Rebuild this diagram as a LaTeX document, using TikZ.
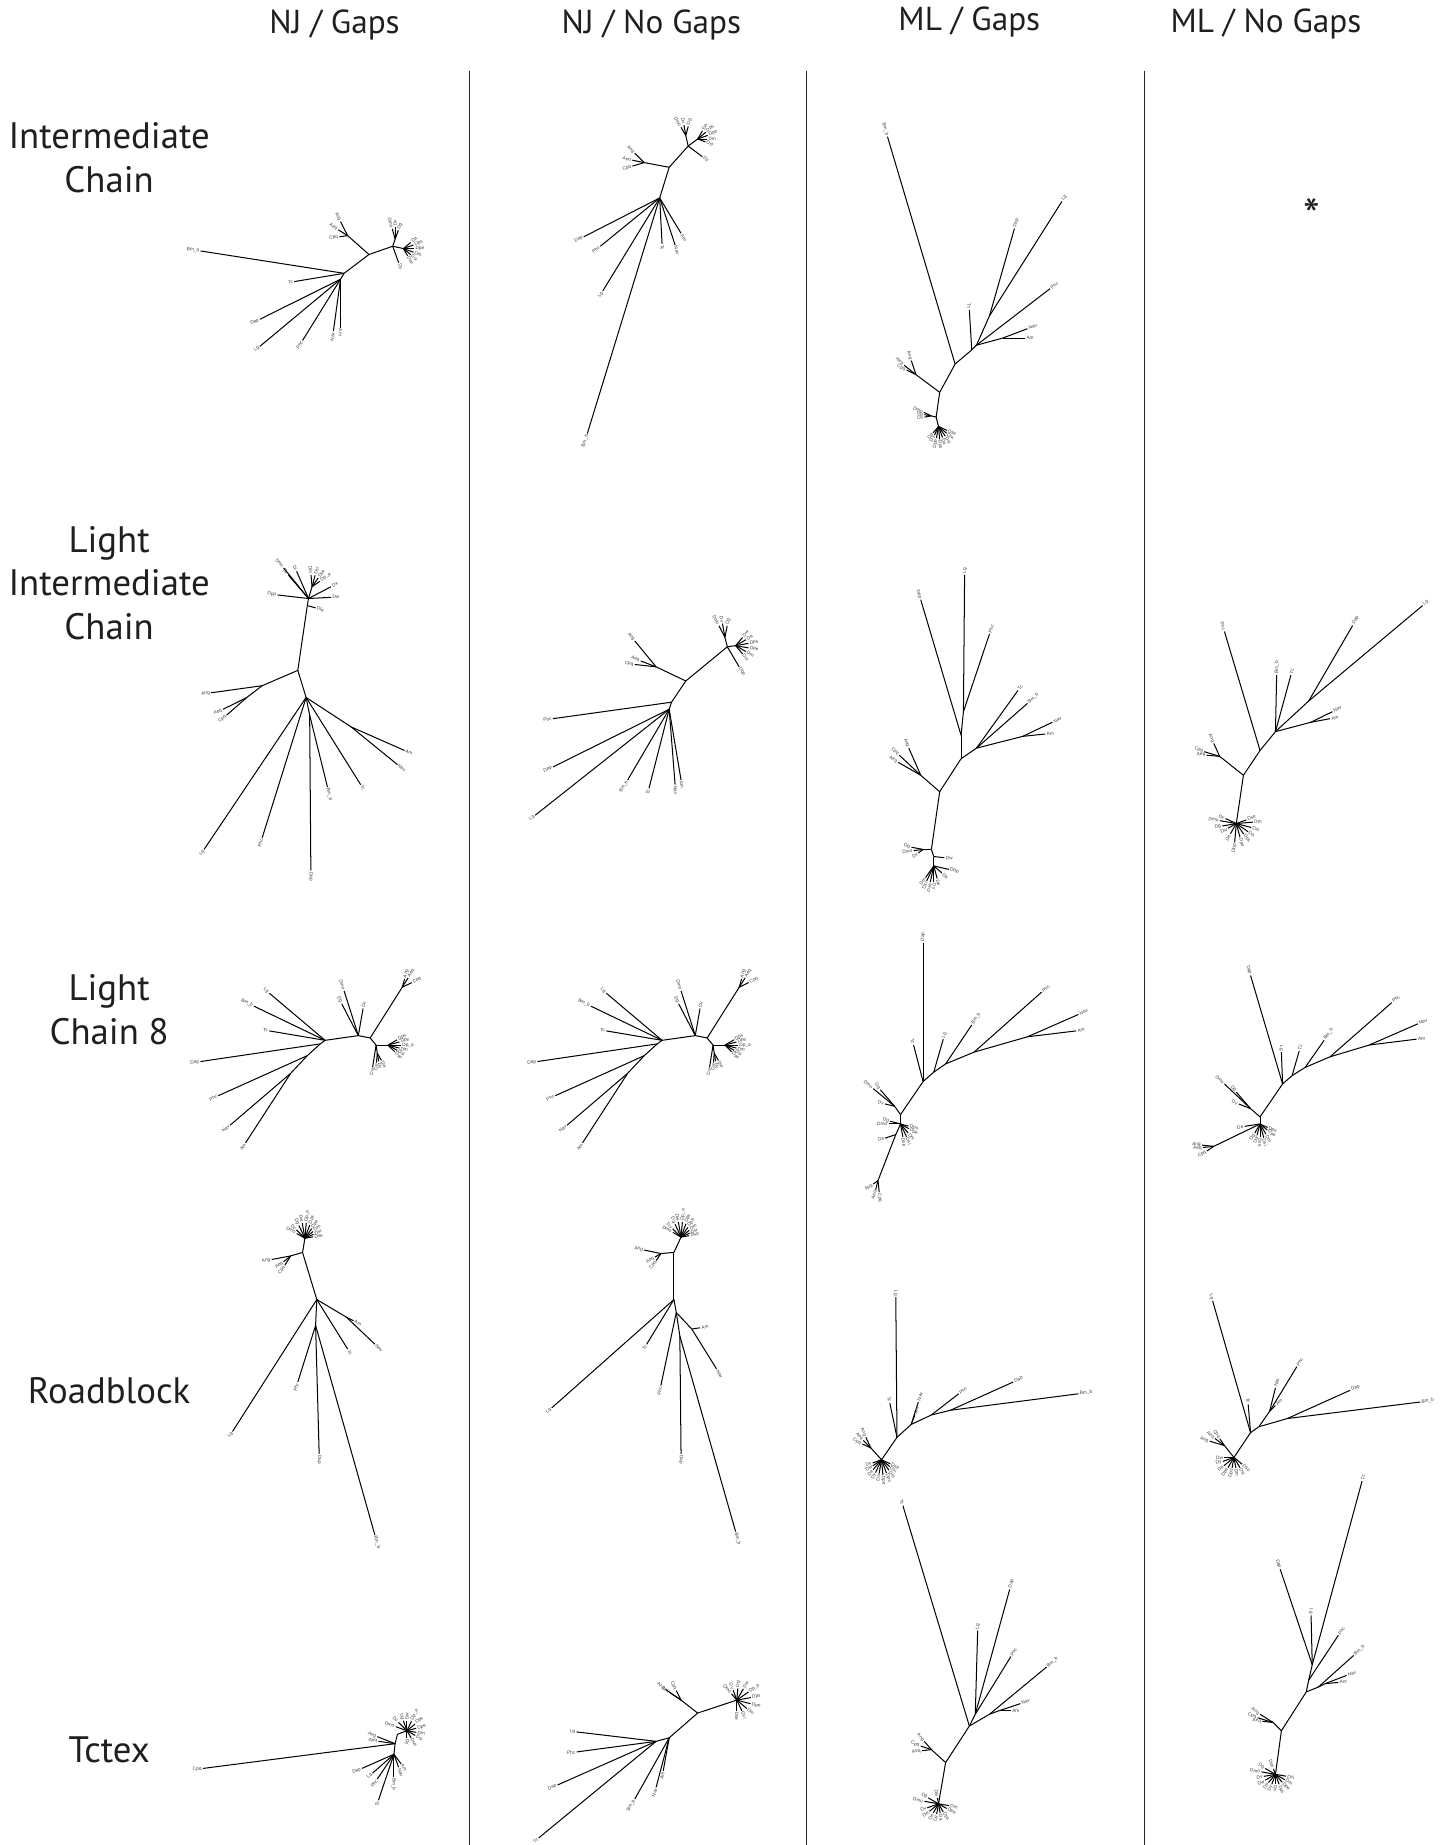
\documentclass[tikz,border=0pt]{standalone}
\usepackage{fontspec}
\setmainfont{PT Sans}
\newfontfamily\lblfont{Liberation Sans}
\usetikzlibrary{calc}
\tikzset{
  br/.style={line width=0.85pt,black},
  lbl/.style={font=\lblfont\fontsize{4}{4}\selectfont,text=black!75,inner sep=1pt},
  hdr/.style={font=\fontsize{28}{34}\selectfont,text=black!88},
  rowlbl/.style={font=\fontsize{31}{37}\selectfont,align=center,text=black!88},
  starlbl/.style={font=\fontsize{40}{40}\selectfont,text=black!88,inner sep=0pt,anchor=north},
  divider/.style={line width=0.9pt,black!85}
}
\newcommand\tnode[3]{\coordinate (#2) at #3; \draw[br] (#1) -- (#2);}
\newcommand\tleaf[4]{%
  \coordinate (#2) at #3;
  \draw[br] (#1) -- (#2);
  \pgfmathanglebetweenpoints{\pgfpointanchor{#1}{center}}{\pgfpointanchor{#2}{center}}%
  \let\myang\pgfmathresult
  \let\myrot\myang\def\myanc{west}%
  \ifdim\myang pt>90pt\relax\ifdim\myang pt<270pt\relax
     \pgfmathsetmacro\myrot{\myang-180}\def\myanc{east}\fi\fi
  \node[lbl,rotate=\myrot,anchor=\myanc] at (#2) {#4};}
\newcommand\fan[3]{\foreach \fanA/\fanL/\fanT [count=\fanK] in {#3}{\tleaf{#1}{#2\fanK}{($(#1)+(\fanA:\fanL)$)}{\fanT}}}
\newcommand\lcnj[1]{%
\coordinate (#1i0) at (274,883);
\tleaf{#1i0}{#1Lg}{(227,843)}{Lg}
\tleaf{#1i0}{#1Bm}{(214,854)}{Bm\_b}
\tleaf{#1i0}{#1Tc}{(227,875)}{Tc}
\tnode{#1i0}{#1i1}{(302,879)}
\tleaf{#1i1}{#1Dmo}{(290,841)}{Dmo}
\tleaf{#1i1}{#1Dg}{(288,852)}{Dg}
\tleaf{#1i1}{#1Dv}{(306,856)}{Dv}
\tnode{#1i1}{#1i2}{(312,881)}
\tnode{#1i2}{#1i3}{(339,838)}
\tleaf{#1i3}{#1Ang}{(341,831)}{Ang}
\tleaf{#1i3}{#1Aeq}{(344,830)}{Aeq}
\tleaf{#1i3}{#1Cpq}{(347,834)}{Cpq}
\tnode{#1i2}{#1i4}{(317,887)}
\tnode{#1i4}{#1i9}{(327,887)}
\fan{#1i9}{#1R}{330/9/Dps,345/10/Dpe,0/11/Dp\_a,15/10/Dm,30/9/Dsi,45/8/Dse}
\tleaf{#1i4}{#1Da}{(314,906)}{Da}
\tnode{#1i4}{#1i10}{(318,894)}
\fan{#1i10}{#1D}{80/7/Dy,95/8/De,60/7/Dw}
\tnode{#1i0}{#1i5}{(270,886)}
\tleaf{#1i5}{#1Dap}{(169,901)}{Dap}
\tnode{#1i5}{#1i6}{(259,896)}
\tleaf{#1i6}{#1Phc}{(184,930)}{Phc}
\tnode{#1i6}{#1i7}{(245,911)}
\tleaf{#1i7}{#1Nav}{(194,955)}{Nav}
\tleaf{#1i7}{#1Am}{(207,970)}{Am}
}
\begin{document}
\begin{tikzpicture}[x=1pt,y=-0.993pt]
\useasboundingbox (0,0) rectangle (1213,1566);
% headers
\node[hdr] (hdrA) at (282,21) {NJ / Gaps};
\node[hdr] (hdrB) at (549,21) {NJ / No Gaps};
\node[hdr] (hdrC) at (817,19) {ML / Gaps};
\node[hdr] (hdrD) at (1067,20) {ML / No Gaps};
% row labels
\node[rowlbl] (rowA) at (92,134) {Intermediate\\Chain};
\node[rowlbl] (rowB) at (92,495) {Light\\Intermediate\\Chain};
\node[rowlbl] (rowC) at (92,857) {Light\\Chain 8};
\node[rowlbl] (rowD) at (92,1180) {Roadblock};
\node[rowlbl] (rowE) at (92,1485) {Tctex};
% dividers
\coordinate (dA1) at (396,60); \coordinate (dA2) at (396,1566);
\coordinate (dB1) at (680,60); \coordinate (dB2) at (680,1566);
\coordinate (dC1) at (965,60); \coordinate (dC2) at (965,1566);
\draw[divider] (dA1) -- (dA2);
\draw[divider] (dB1) -- (dB2);
\draw[divider] (dC1) -- (dC2);
% ---------- Row 1 ----------
% T1 NJ/Gaps
\coordinate (a0) at (290,232);
\tleaf{a0}{aBm}{(169,213)}{Bm\_b}
\tleaf{a0}{aTc}{(248,239)}{Tc}
\tnode{a0}{a1}{(287,237)}
\tleaf{a1}{aDap}{(219,271)}{Dap}
\tleaf{a1}{aLg}{(219,294)}{Lg}
\tleaf{a1}{aPhc}{(255,289)}{Phc}
\tleaf{a1}{aNav}{(281,281)}{Nav}
\tleaf{a1}{aAm}{(287,278)}{Am}
\tnode{a0}{a2}{(311,216)}
\tnode{a2}{a3}{(293,200)}
\tleaf{a3}{aAng}{(287,188)}{Ang}
\tleaf{a3}{aAeq}{(285,195)}{Aeq}
\tleaf{a3}{aCpq}{(286,201)}{Cpq}
\tnode{a2}{a4}{(331,209)}
\tnode{a4}{a5}{(333,203)}
\fan{a5}{aU}{255/9/Dmo,270/10/Dv,290/8/Dg}
\tnode{a4}{a6}{(340,211)}
\fan{a6}{aR}{320/8/Da,340/9/Dps,0/9/Dpe,20/9/Dm,40/8/Dsi,60/7/Dse}
\tleaf{a4}{aDme}{(336,223)}{Dy}
% T2 NJ/No Gaps
\coordinate (b0) at (556,168);
\tleaf{b0}{bBm}{(495,368)}{Bm\_b}
\tleaf{b0}{bDap}{(492,201)}{Dap}
\tleaf{b0}{bPhc}{(506,209)}{Phc}
\tleaf{b0}{bLg}{(508,247)}{Lg}
\tleaf{b0}{bTc}{(558,207)}{Tc}
\tleaf{b0}{bNav}{(569,208)}{Nav}
\tleaf{b0}{bAm}{(574,198)}{Am}
\tnode{b0}{b1}{(564,142)}
\tnode{b1}{b2}{(543,138)}
\tleaf{b2}{bAng}{(535,130)}{Ang}
\tleaf{b2}{bAeq}{(533,136)}{Aeq}
\tleaf{b2}{bCpq}{(533,141)}{Cpq}
\tnode{b1}{b3}{(580,124)}
\tnode{b3}{b4}{(578,115)}
\fan{b4}{bU}{240/8/Dmo,260/9/Dv,285/8/Dg}
\tnode{b3}{b5}{(588,118)}
\fan{b5}{bR}{300/8/Da,320/9/Dps,340/9/Dpe,0/8/Dm,20/7/Dsi}
\tleaf{b3}{bDme}{(592,133)}{Dy}
% T3 ML/Gaps
\coordinate (c0) at (805,309);
\tleaf{c0}{cBm}{(748,116)}{Bm\_b}
\tnode{c0}{c2}{(819,297)}
\tleaf{c2}{cTc}{(817,263)}{Tc}
\tnode{c2}{c3}{(823,293)}
\tnode{c3}{c4}{(834,268)}
\tleaf{c4}{cDap}{(855,194)}{Dap}
\tleaf{c4}{cLg}{(895,171)}{Lg}
\tleaf{c3}{cPhc}{(885,245)}{Phc}
\tnode{c3}{c6}{(845,287)}
\tleaf{c6}{cNav}{(866,279)}{Nav}
\tleaf{c6}{cAm}{(864,287)}{Am}
\tnode{c0}{c1}{(792,333)}
\tnode{c1}{c8}{(772,318)}
\tleaf{c8}{cAng}{(768,306)}{Ang}
\tleaf{c8}{cAeq}{(762,310)}{Aeq}
\tleaf{c8}{cCpq}{(764,314)}{Cpq}
\tnode{c1}{c7}{(789,354)}
\tnode{c7}{c9}{(785,353)}
\fan{c9}{cL}{190/6/Dg,205/7/Dmo,170/6/Dv}
\tnode{c7}{c10}{(791,362)}
\fan{c10}{cD}{100/10/Dpe,85/11/Dps,70/10/Da,55/10/Dsi,40/9/Dm,25/8/Dse,115/8/Dy,130/7/De}
% T4 ML/No Gaps
\node[starlbl] (star) at (1106,168) {*};
% ---------- Row 2 ----------
% T5
\coordinate (e0) at (251,569);
\tnode{e0}{e2}{(259,514)}
\tleaf{e2}{eDle}{(266,516)}{Dle}
\tnode{e2}{e3}{(260,508)}
\tleaf{e3}{eDgg}{(234,505)}{Dpp}
\tleaf{e3}{eDmo}{(239,482)}{Dmo}
\tleaf{e3}{eDy}{(243,488)}{Dy}
\tleaf{e3}{eDr}{(250,485)}{Dr}
\tnode{e3}{e8}{(263,498)}
\fan{e8}{eC}{265/10/Dm,285/10/Dsi,305/9/Dse,325/8/Dp\_a}
\tleaf{e3}{eDx}{(279,498)}{Dx}
\tleaf{e3}{eDw}{(279,507)}{Dw}
\tnode{e0}{e4}{(221,582)}
\tleaf{e4}{eAng}{(178,588)}{Ang}
\tnode{e4}{e5}{(208,592)}
\tleaf{e5}{eAeq}{(188,602)}{Aeq}
\tleaf{e5}{eCpq}{(191,607)}{Cpq}
\tnode{e0}{e1}{(258,592)}
\tleaf{e1}{eLg}{(172,721)}{Lg}
\tleaf{e1}{ePhc}{(221,711)}{Phc}
\tnode{e1}{e6}{(261,607)}
\tleaf{e6}{eDap}{(262,739)}{Dap}
\tleaf{e6}{eBm}{(276,668)}{Bm\_b}
\tleaf{e1}{eTc}{(304,666)}{Tc}
\tnode{e1}{e7}{(296,617)}
\tleaf{e7}{eAm}{(341,637)}{Am}
\tleaf{e7}{eNav}{(335,649)}{Nav}
% T6
\coordinate (f0) at (578,578);
\tnode{f0}{f1}{(613,549)}
\tnode{f1}{f2}{(611,541)}
\fan{f2}{fU}{243/11/Dmo,260/12/Dv,281/10/Dg}
\tnode{f1}{f3}{(620,548)}
\fan{f3}{fR}{310/9/Dw,330/10/Da,350/11/Dps,10/11/Dpe,30/10/Dm,50/9/Dsi}
\tleaf{f1}{fDbp}{(623,566)}{Dbp}
\tnode{f0}{f4}{(553,566)}
\tleaf{f4}{fAng}{(535,544)}{Ang}
\tleaf{f4}{fAeq}{(540,561)}{Aeq}
\tleaf{f4}{fCpq}{(535,564)}{Cpq}
\tnode{f0}{f5}{(566,596)}
\tleaf{f5}{fPhc}{(466,610)}{Phc}
\tnode{f5}{f6}{(564,602)}
\tleaf{f6}{fDap}{(466,651)}{Dap}
\tleaf{f6}{fLg}{(451,692)}{Lg}
\tleaf{f6}{fBm}{(529,662)}{Bm\_b}
\tleaf{f6}{fTc}{(547,669)}{Tc}
\tleaf{f6}{fNav}{(569,666)}{Nav}
\tleaf{f6}{fAm}{(574,662)}{Am}
% T7
\coordinate (g0) at (792,672);
\tnode{g0}{g1}{(810,644)}
\tnode{g1}{g2}{(810,624)}
\tleaf{g2}{gDap}{(776,509)}{Dap}
\tnode{g2}{g3}{(812,604)}
\tleaf{g3}{gLg}{(813,488)}{Lg}
\tleaf{g3}{gPhc}{(834,538)}{Phc}
\tnode{g1}{g4}{(823,635)}
\tleaf{g4}{gTc}{(858,586)}{Tc}
\tleaf{g4}{gBm}{(866,597)}{Bm\_b}
\tnode{g4}{g5}{(862,625)}
\tleaf{g5}{gNav}{(887,613)}{Nav}
\tleaf{g5}{gAm}{(881,623)}{Am}
\tnode{g0}{g6}{(776,658)}
\tleaf{g6}{gAng}{(766,635)}{Ang}
\tleaf{g6}{gCpq}{(758,641)}{Cpq}
\tleaf{g6}{gAeq}{(757,647)}{Aeq}
\tnode{g0}{g7}{(785,721)}
\tnode{g7}{g10}{(778,721)}
\fan{g10}{gL}{191/10/Dg,173/8/Dmo,143/5/Dv}
\tnode{g7}{g8}{(787,727)}
\tleaf{g8}{gDw}{(796,728)}{Dw}
\tnode{g8}{g9}{(787,735)}
\fan{g9}{gD}{125/12/Dm,115/14/Dsi,102/14/Dse,90/14/Dy,75/11/De,41/9/Da,13/13/Dbp}
% T8
\coordinate (h0) at (1048,658);
\tnode{h0}{h1}{(1062,637)}
\tleaf{h1}{hPhc}{(1032,536)}{Phc}
\tnode{h1}{h2}{(1075,621)}
\tleaf{h2}{hBm}{(1076,573)}{Bm\_b}
\tleaf{h2}{hTc}{(1088,573)}{Tc}
\tnode{h2}{h3}{(1103,595)}
\tleaf{h3}{hLg}{(1199,514)}{Lg}
\tleaf{h3}{hDap}{(1140,531)}{Dap}
\tnode{h2}{h5}{(1105,613)}
\tleaf{h5}{hNav}{(1123,604)}{Nav}
\tleaf{h5}{hAm}{(1121,610)}{Am}
\tnode{h0}{h6}{(1028,642)}
\tleaf{h6}{hAng}{(1023,631)}{Ang}
\tleaf{h6}{hCpq}{(1015,638)}{Cpq}
\tleaf{h6}{hAeq}{(1017,641)}{Aeq}
\tnode{h0}{h4}{(1042,699)}
\fan{h4}{hD}{190/14/Dmo,170/12/Dg,205/10/Dv,150/8/Dw,120/10/De,95/16/Dbp,75/12/Dpe,55/11/Dps,35/12/Da,15/13/Dsi,355/14/Dm,340/9/Dse}
% ---------- Row 3 ----------
\begin{scope}\lcnj{i}\end{scope}
\begin{scope}[shift={(284,0)}]\lcnj{u}\end{scope}
% T11
\coordinate (j0) at (759,946);
\tnode{j0}{j1}{(778,918)}
\tleaf{j1}{jDap}{(778,800)}{Dap}
\tleaf{j1}{jTc}{(770,887)}{Tc}
\tnode{j1}{j2}{(787,910)}
\tleaf{j2}{jLg}{(795,882)}{Lg}
\tnode{j2}{j3}{(797,903)}
\tleaf{j3}{jBm}{(819,870)}{Bm\_b}
\tnode{j3}{j4}{(821,893)}
\tleaf{j4}{jPhc}{(878,842)}{Phc}
\tnode{j4}{j5}{(866,880)}
\tleaf{j5}{jNav}{(909,861)}{Nav}
\tleaf{j5}{jAm}{(907,875)}{Am}
\tnode{j0}{j8}{(754,939)}
\tleaf{j8}{jDmo}{(736,924)}{Dmo}
\tleaf{j8}{jDg}{(742,925)}{Dg}
\tleaf{j8}{jDv}{(746,937)}{Dv}
\tnode{j0}{j6}{(759,954)}
\fan{j6}{jL}{195/9/Dg,180/10/Dmo}
\fan{j6}{jR}{15/7/Dps,30/8/Dpe,50/10/Dm,65/12/Dsi,80/11/Dse}
\tnode{j6}{j7}{(755,963)}
\tleaf{j7}{jDa}{(746,966)}{Da}
\tnode{j7}{j11}{(740,1002)}
\fan{j11}{jA}{143/5/Ang,104/8/Aeq,84/10/Cpq}
% T12
\coordinate (k0) at (1062,948);
\tnode{k0}{k1}{(1081,920)}
\tleaf{k1}{kDap}{(1054,828)}{Dap}
\tleaf{k1}{kLg}{(1080,893)}{Lg}
\tnode{k1}{k2}{(1089,913)}
\tleaf{k2}{kTc}{(1095,892)}{Tc}
\tnode{k2}{k3}{(1100,906)}
\tleaf{k3}{kBm}{(1116,883)}{Bm\_b}
\tnode{k3}{k4}{(1121,897)}
\tleaf{k4}{kPhc}{(1173,851)}{Phc}
\tnode{k4}{k5}{(1154,887)}
\tleaf{k5}{kNav}{(1195,869)}{Nav}
\tleaf{k5}{kAm}{(1194,882)}{Am}
\tnode{k0}{k8}{(1054,941)}
\tleaf{k8}{kDmo}{(1032,920)}{Dmo}
\tleaf{k8}{kDg}{(1042,927)}{Dg}
\tleaf{k8}{kDv}{(1044,937)}{Dv}
\tnode{k0}{k6}{(1062,954)}
\tleaf{k6}{kDa}{(1049,956)}{Da}
\fan{k6}{kR}{25/7/Dps,40/8/Dpe,60/10/Dm,75/12/Dsi,90/11/Dse}
\fan{k6}{kL}{120/9/Dg,105/10/Dw}
\tnode{k6}{k7}{(1023,973)}
\fan{k7}{kA}{186/10/Ang,174/9/Aeq,146/7/Cpq}
% ---------- Row 4 ----------
% T13
\coordinate (l0) at (267,1103);
\tnode{l0}{l1}{(255,1063)}
\tnode{l1}{l4}{(245,1066)}
\tleaf{l4}{lAng}{(229,1069)}{Ang}
\tleaf{l4}{lAeq}{(239,1071)}{Aeq}
\tleaf{l4}{lCpq}{(240,1074)}{Cpq}
\tnode{l1}{l2}{(257,1051)}
\fan{l2}{lU}{210/8/Dmo,225/10/Dv,245/12/Dg,260/13/Dw,275/13/Dp\_a,290/12/Dps,305/10/Dpe,320/9/Dm,335/8/Dsi,350/7/Dse}
\tnode{l0}{l5}{(292,1118)}
\tleaf{l5}{lAm}{(298,1121)}{Am}
\tleaf{l5}{lNav}{(316,1141)}{Nav}
\tleaf{l0}{lTc}{(293,1145)}{Tc}
\tleaf{l0}{lLg}{(196,1215)}{Lg}
\tnode{l0}{l3}{(266,1125)}
\tleaf{l3}{lPhc}{(251,1173)}{Phc}
\tleaf{l3}{lDap}{(269,1234)}{Dap}
\tleaf{l3}{lBm}{(316,1303)}{Bm\_b}
% T14
\coordinate (m0) at (568,1103);
\tnode{m0}{m1}{(568,1063)}
\tnode{m1}{m4}{(557,1064)}
\tleaf{m4}{mAng}{(543,1061)}{Ang}
\tleaf{m4}{mAeq}{(552,1067)}{Aeq}
\tleaf{m4}{mCpq}{(553,1070)}{Cpq}
\tnode{m1}{m2}{(574,1050)}
\fan{m2}{mU}{210/8/Dmo,225/10/Dv,245/12/Dg,260/13/Dw,275/13/Dp\_a,290/12/Dps,305/10/Dpe,320/9/Dm,335/8/Dsi,350/7/Dse}
\tleaf{m0}{mLg}{(465,1195)}{Lg}
\tleaf{m0}{mTc}{(545,1141)}{Tc}
\tnode{m0}{m3}{(570,1114)}
\tleaf{m3}{mPhc}{(557,1176)}{Phc}
\tnode{m3}{m5}{(573,1134)}
\tleaf{m5}{mDap}{(574,1234)}{Dap}
\tleaf{m5}{mBm}{(620,1300)}{Bm\_b}
\tnode{m3}{m7}{(583,1128)}
\tleaf{m7}{mAm}{(590,1127)}{Am}
\tleaf{m7}{mNav}{(604,1162)}{Nav}
% T15
\coordinate (n0) at (743,1239);
\fan{n0}{nD}{25/8/Dse,40/9/Dsi,55/11/Dm,70/12/Dps,85/13/Dpe,100/12/Da,115/12/Dy,130/11/De,145/9/Dw,160/8/Dv}
\tnode{n0}{n5}{(734,1229)}
\fan{n5}{nA}{245/10/Ang,225/9/Aeq,205/8/Cpq}
\tnode{n0}{n1}{(756,1220)}
\tleaf{n1}{nLg}{(755,1101)}{Lg}
\tleaf{n1}{nTc}{(750,1191)}{Tc}
\tnode{n1}{n2}{(768,1209)}
\tleaf{n2}{nNav}{(774,1190)}{Nav}
\tleaf{n2}{nAm}{(771,1201)}{Am}
\tnode{n2}{n3}{(785,1201)}
\tleaf{n3}{nPhc}{(808,1183)}{Phc}
\tnode{n3}{n4}{(801,1197)}
\tleaf{n4}{nDap}{(854,1173)}{Dap}
\tleaf{n4}{nBm}{(909,1183)}{Bm\_b}
% T16
\coordinate (o0) at (1040,1237);
\fan{o0}{oD}{40/9/Dse,60/10/Dsi,80/9/Dm,100/9/Dps,120/10/Dpe,140/11/Da,160/10/Dy,180/8/Dw}
\tnode{o0}{o5}{(1032,1227)}
\fan{o5}{oA}{197/13/Ang,217/10/Aeq,236/7/Cpq}
\tnode{o0}{o1}{(1054,1216)}
\tleaf{o1}{oLg}{(1022,1104)}{Lg}
\tleaf{o1}{oTc}{(1052,1192)}{Tc}
\tnode{o1}{o2}{(1061,1211)}
\tnode{o2}{o6}{(1070,1198)}
\tleaf{o6}{oAm}{(1075,1193)}{Am}
\tleaf{o6}{oNav}{(1075,1178)}{Nav}
\tleaf{o6}{oPhc}{(1093,1160)}{Phc}
\tnode{o2}{o3}{(1085,1204)}
\tleaf{o3}{oDap}{(1138,1180)}{Dap}
\tleaf{o3}{oBm}{(1197,1190)}{Bm\_b}
% ---------- Row 5 ----------
% T17
\coordinate (p0) at (333,1480);
\tleaf{p0}{pCpq}{(171,1501)}{Cpq}
\tleaf{p0}{pAng}{(318,1474)}{Ang}
\tleaf{p0}{pAeq}{(319,1478)}{Aeq}
\tnode{p0}{p1}{(335,1472)}
\tnode{p1}{p2}{(343,1469)}
\fan{p2}{pU}{200/10/Dmo,225/10/Dv,250/9/Dg,270/8/Dw,295/9/Dp\_a,320/9/Dps,345/8/Dpe,10/8/Dm,30/8/Dsi,60/7/Dse,90/6/Dy}
\tnode{p0}{p3}{(332,1489)}
\tleaf{p3}{pDap}{(305,1501)}{Dap}
\tleaf{p3}{pLg}{(314,1505)}{Lg}
\tleaf{p3}{pPhc}{(318,1510)}{Phc}
\tleaf{p3}{pTc}{(319,1528)}{Tc}
\tleaf{p3}{pBm}{(332,1508)}{Bm\_b}
\tleaf{p3}{pNav}{(336,1500)}{Nav}
\tleaf{p3}{pAm}{(338,1497)}{Am}
% T18
\coordinate (q0) at (564,1475);
\tnode{q0}{q1}{(588,1454)}
\tnode{q1}{q4}{(574,1443)}
\tleaf{q4}{qAng}{(561,1434)}{Ang}
\tleaf{q4}{qAeq}{(565,1437)}{Aeq}
\tleaf{q4}{qCpq}{(570,1435)}{Cpq}
\tnode{q1}{q2}{(621,1443)}
\fan{q2}{qC}{230/7/Dmo,250/9/Dv,275/10/Dg,300/11/Dw,325/12/Dp\_a,350/12/Dps,15/12/Dpe,40/11/Dm,65/10/Dsi,90/9/Dse}
\tnode{q0}{q3}{(553,1478)}
\tleaf{q3}{qLg}{(486,1470)}{Lg}
\tleaf{q3}{qPhc}{(486,1487)}{Phc}
\tleaf{q3}{qDap}{(470,1515)}{Dap}
\tleaf{q3}{qTc}{(454,1560)}{Tc}
\tleaf{q0}{qBm}{(535,1527)}{Bm\_b}
\tleaf{q0}{qNav}{(553,1517)}{Nav}
\tleaf{q0}{qAm}{(559,1503)}{Am}
% T19
\coordinate (r0) at (797,1496);
\tnode{r0}{r1}{(817,1465)}
\tleaf{r1}{rTc}{(761,1278)}{Tc}
\tnode{r1}{r2}{(822,1455)}
\tleaf{r2}{rLg}{(824,1384)}{Lg}
\tleaf{r2}{rDap}{(851,1349)}{Dap}
\tleaf{r2}{rPhc}{(852,1406)}{Phc}
\tnode{r1}{r4}{(834,1455)}
\tleaf{r4}{rBm}{(882,1415)}{Bm\_b}
\tnode{r4}{r5}{(842,1452)}
\tleaf{r5}{rNav}{(860,1446)}{Nav}
\tleaf{r5}{rAm}{(852,1452)}{Am}
\tnode{r0}{r7}{(785,1485)}
\tleaf{r7}{rAng}{(779,1478)}{Ang}
\tleaf{r7}{rCpq}{(776,1482)}{Cpq}
\tleaf{r7}{rAeq}{(777,1486)}{Aeq}
\tnode{r0}{r6}{(791,1531)}
\fan{r6}{rD}{190/12/Dmo,210/10/Dg,160/10/Dv,140/10/Dw,120/9/De,100/9/Dy,80/8/Da,60/8/Dps,30/8/Dpe,10/9/Dm,260/5/Dsi}
% T20
\coordinate (s0) at (1080,1469);
\tnode{s0}{s1}{(1101,1436)}
\tnode{s1}{s2}{(1103,1426)}
\tleaf{s2}{sPhc}{(1128,1388)}{Phc}
\tnode{s2}{s3}{(1106,1413)}
\tleaf{s3}{sDap}{(1079,1332)}{Dap}
\tleaf{s3}{sLg}{(1105,1371)}{Lg}
\tleaf{s3}{sTc}{(1148,1257)}{Tc}
\tnode{s1}{s5}{(1111,1432)}
\tleaf{s5}{sBm}{(1141,1405)}{Bm\_b}
\tnode{s5}{s6}{(1117,1429)}
\tleaf{s6}{sNav}{(1135,1422)}{Nav}
\tleaf{s6}{sAm}{(1128,1428)}{Am}
\tnode{s0}{s8}{(1073,1462)}
\tleaf{s8}{sAng}{(1062,1455)}{Ang}
\tleaf{s8}{sCpq}{(1060,1458)}{Cpq}
\tleaf{s8}{sAeq}{(1064,1461)}{Aeq}
\tnode{s0}{s7}{(1075,1506)}
\fan{s7}{sD}{190/12/Dmo,210/10/Dg,170/10/Dv,150/10/Dw,130/9/De,110/9/Dy,90/8/Da,70/9/Dps,50/9/Dpe,30/9/Dm,10/9/Dsi,250/5/Dse}
\end{tikzpicture}
\end{document}
